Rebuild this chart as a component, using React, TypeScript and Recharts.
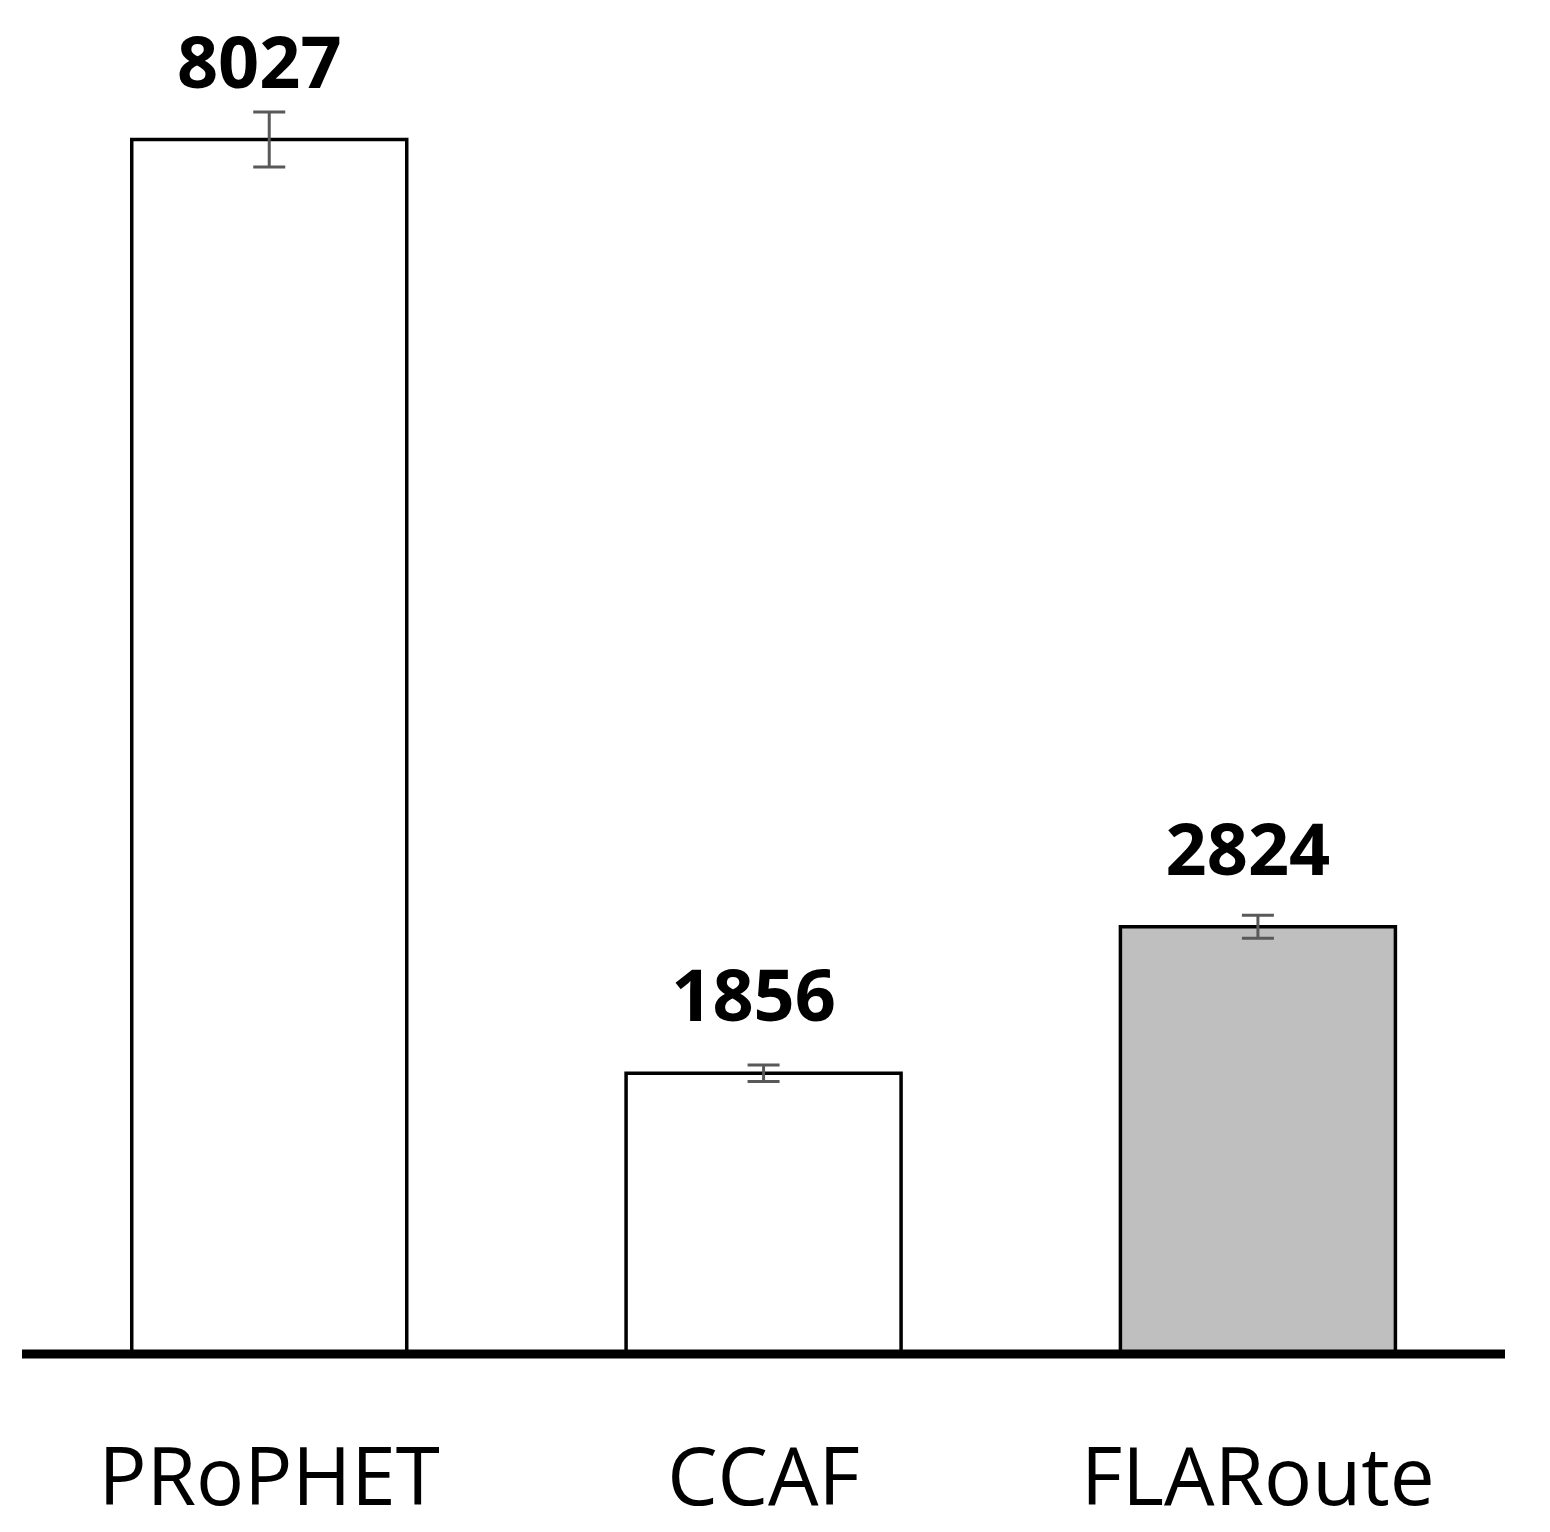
import { BarChart, Bar, XAxis, YAxis, ErrorBar, LabelList, Cell } from 'recharts';

const routers = ['PRoPHET', 'CCAF', 'FLARoute'];
const overhead = [8027, 1856, 2824];
const overheadErr = [182, 55, 76];
const barFills = ['#ffffff', '#ffffff', '#bfbfbf'];

const data = routers.map((name, i) => ({ name, value: overhead[i], err: overheadErr[i] }));

export default function App() {
  return (
    <div style={{ fontFamily: '"Open Sans", sans-serif' }}>
      <BarChart
        width={1534}
        height={1524}
        data={data}
        margin={{ top: 60, right: 37, bottom: 0, left: 14 }}
        barCategoryGap="22.2%"
      >
        <XAxis
          dataKey="name"
          axisLine={{ stroke: '#000', strokeWidth: 9 }}
          tickLine={false}
          tickSize={0}
          tickMargin={94}
          height={178}
          interval={0}
          tick={{ fill: '#000', fontSize: 80, fontFamily: '"Open Sans", sans-serif' }}
        />
        <YAxis hide domain={[0, 8500]} />
        <Bar dataKey="value" stroke="#000" strokeWidth={3.5} isAnimationActive={false}>
          {data.map((d, i) => (
            <Cell key={d.name} fill={barFills[i]} />
          ))}
          <ErrorBar dataKey="err" stroke="#595959" strokeWidth={3} width={16} />
          <LabelList
            dataKey="value"
            position="top"
            offset={52}
            dx={-10}
            fill="#000"
            fontSize={72}
            fontWeight="bold"
            fontFamily='"Open Sans", sans-serif'
          />
        </Bar>
      </BarChart>
    </div>
  );
}
